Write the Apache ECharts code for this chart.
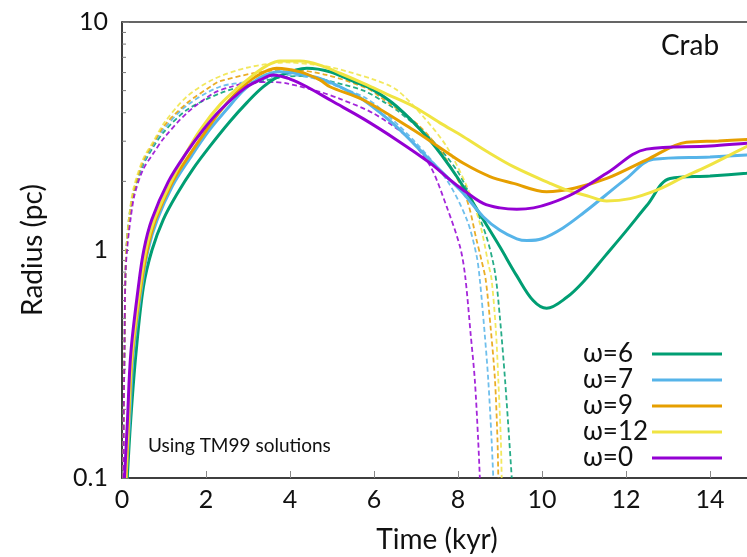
<!DOCTYPE html>
<html><head><meta charset="utf-8">
<script src="https://cdn.jsdelivr.net/npm/echarts@6/dist/echarts.min.js"></script>
<style>html,body{margin:0;padding:0;background:#fff}#c{width:747px;height:557px}</style>
</head><body><div id="c"></div>
<script>
const FONT = 'Lato, "DejaVu Sans", sans-serif';

// ---- Solid curves (full model), time in kyr, radius in pc ----
const timeW6 = [0.126,0.207,0.333,0.51,0.714,0.983,1.31,1.70,2.10,2.57,2.98,3.36,3.76,4.40,4.95,5.55,5.9,6.54,7.33,7.97,8.6,9.0,9.4,9.79,10.11,10.59,11.0,11.5,12.0,12.5,13.05,14.0,14.87,15.0];
const radiusW6 = [0.1,0.179,0.353,0.69,1.0,1.36,1.76,2.28,2.86,3.66,4.44,5.19,5.80,6.27,6.05,5.45,5.14,4.26,3.03,2.10,1.36,1.03,0.77,0.60,0.555,0.62,0.731,0.94,1.21,1.57,2.06,2.11,2.17,2.18];

const timeW7 = [0.095,0.18,0.27,0.47,0.62,0.84,1.2,1.62,2.07,2.49,2.88,3.29,3.76,4.24,4.71,5.19,5.75,6.54,7.33,7.81,8.13,8.6,9.0,9.4,9.64,10.0,10.5,11.0,11.5,12.0,12.65,14.0,14.87,15.0];
const radiusW7 = [0.1,0.179,0.353,0.69,1.0,1.36,1.91,2.53,3.34,4.13,4.98,5.71,6.05,5.92,5.66,5.2,4.55,3.47,2.48,2.03,1.77,1.40,1.22,1.12,1.10,1.12,1.25,1.46,1.73,2.05,2.50,2.56,2.61,2.62];

const timeW9 = [0.10,0.16,0.25,0.45,0.60,0.80,1.19,1.6,2.0,2.38,2.81,3.19,3.68,4.24,4.71,4.95,5.75,6.94,7.57,8.13,8.76,9.32,10.11,10.79,11.54,12.48,13.44,14.2,15.0];
const radiusW9 = [0.1,0.179,0.353,0.69,1.0,1.36,1.97,2.60,3.33,4.15,5.08,5.77,6.27,6.04,5.57,5.2,4.55,3.36,2.81,2.40,2.1,1.96,1.80,1.87,2.06,2.48,2.97,3.01,3.06];

const timeW12 = [0.09,0.15,0.24,0.43,0.57,0.77,1.19,1.50,1.86,2.33,2.81,3.17,3.45,3.76,4.24,4.71,5.19,5.75,6.3,6.94,7.57,8.13,8.71,9.32,10.19,10.59,11.07,11.54,12.1,12.73,13.33,13.92,14.87,15.0];
const radiusW12 = [0.1,0.179,0.353,0.69,1.0,1.36,2.03,2.61,3.36,4.33,5.24,5.94,6.44,6.75,6.74,6.47,5.96,5.38,4.83,4.26,3.61,3.14,2.69,2.32,1.96,1.83,1.73,1.64,1.68,1.83,2.07,2.32,2.84,2.91];

const timeW0 = [0.06,0.13,0.21,0.39,0.52,0.71,1.10,1.54,1.93,2.33,2.93,3.29,3.6,4.0,4.4,5.0,5.75,6.54,7.33,7.81,8.13,8.6,9.0,9.4,9.8,10.19,10.75,11.54,12.49,14.0,14.87,15.0];
const radiusW0 = [0.1,0.179,0.353,0.69,1.0,1.36,1.99,2.68,3.36,4.09,5.14,5.57,5.86,5.62,5.2,4.5,3.76,3.04,2.41,2.03,1.83,1.60,1.53,1.51,1.53,1.60,1.77,2.17,2.77,2.86,2.94,2.95];

// ---- Dashed curves (TM99 solutions) ----
const timeTmW6 = [0.03,0.04,0.06,0.08,0.11,0.17,0.27,0.5,0.75,1.0,1.54,2.33,3.13,3.92,4.4,4.95,5.75,6.30,6.54,7.33,7.97,8.37,8.68,8.88,9.0,9.12,9.22,9.28];
const radiusTmW6 = [0.1,0.18,0.38,0.76,1.05,1.4,1.77,2.35,2.84,3.3,4.11,4.86,5.38,5.76,5.8,5.5,5.0,4.39,4.11,3.1,2.24,1.60,1.14,0.80,0.5,0.27,0.147,0.1];

const timeTmW7 = [0.03,0.04,0.06,0.08,0.11,0.18,0.28,0.5,0.75,1.0,1.54,2.33,3.13,3.92,4.5,5.03,5.75,6.14,6.94,7.73,8.21,8.44,8.52,8.64,8.72,8.80,8.84];
const radiusTmW7 = [0.1,0.18,0.38,0.76,1.05,1.4,1.8,2.4,2.9,3.4,4.3,5.2,5.5,5.86,5.7,5.3,4.7,4.18,3.03,2.03,1.36,0.95,0.74,0.42,0.27,0.147,0.1];

const timeTmW9 = [0.03,0.04,0.06,0.08,0.11,0.18,0.28,0.5,0.75,1.0,1.54,2.17,2.33,3.13,3.92,4.87,5.83,6.14,7.10,7.73,8.21,8.44,8.56,8.66,8.78,8.88,8.94,8.96];
const radiusTmW9 = [0.1,0.18,0.38,0.76,1.05,1.4,1.8,2.45,2.95,3.5,4.4,5.3,5.5,5.96,6.19,5.86,5.12,4.7,3.47,2.48,1.66,1.11,0.9,0.74,0.45,0.27,0.147,0.1];

const timeTmW12 = [0.03,0.04,0.06,0.08,0.11,0.17,0.27,0.5,0.75,1.0,1.54,2.17,2.97,3.92,4.56,5.03,5.98,6.54,7.17,7.73,8.21,8.52,8.72,8.80,8.90,8.96,9.02,9.04];
const radiusTmW12 = [0.1,0.18,0.38,0.76,1.05,1.4,1.85,2.5,3.0,3.6,4.7,5.6,6.3,6.65,6.5,6.3,5.6,5.04,3.85,2.84,1.90,1.31,0.875,0.74,0.45,0.27,0.147,0.1];

const timeTmW0 = [0.03,0.04,0.06,0.08,0.12,0.2,0.3,0.5,0.75,1.0,1.54,2.17,2.6,3.13,3.6,3.92,4.71,5.19,5.98,6.78,7.33,7.73,8.05,8.17,8.30,8.40,8.48,8.52];
const radiusTmW0 = [0.1,0.18,0.38,0.76,1.0,1.35,1.75,2.25,2.66,3.1,3.98,4.86,5.2,5.45,5.45,5.38,4.94,4.6,3.98,3.14,2.35,1.55,1.03,0.77,0.43,0.27,0.147,0.1];

const legendNames = ['ω=6','ω=7','ω=9','ω=12','ω=0'];
const seriesColors = ['#009e73','#56b4e9','#e69f00','#f0e442','#9400d3'];
const xTickLabels = [0,2,4,6,8,10,12,14];
const minorTickValues = [0.2,0.3,0.4,0.5,0.6,0.7,0.8,0.9,2,3,4,5,6,7,8,9];

const solid = [[timeW6,radiusW6],[timeW7,radiusW7],[timeW9,radiusW9],[timeW12,radiusW12],[timeW0,radiusW0]];
const dashed = [[timeTmW6,radiusTmW6],[timeTmW7,radiusTmW7],[timeTmW9,radiusTmW9],[timeTmW12,radiusTmW12],[timeTmW0,radiusTmW0]];
const zip = (t, r) => t.map((v, i) => [v, r[i]]);

const series = [];
dashed.forEach((d, i) => {
  series.push({
    name: 'TM99 ' + legendNames[i], type: 'line', data: zip(d[0], d[1]),
    showSymbol: false, symbol: 'none', smooth: 0.3, color: seriesColors[i],
    lineStyle: {color: seriesColors[i], width: 1.8, type: [5, 3], opacity: 0.85},
    z: 2
  });
});
solid.forEach((d, i) => {
  series.push({
    name: legendNames[i], type: 'line', data: zip(d[0], d[1]),
    showSymbol: false, symbol: 'none', smooth: 0.35, color: seriesColors[i],
    lineStyle: {color: seriesColors[i], width: 3},
    z: 3
  });
});
series.push({
  type: 'custom', name: 'minorTicks',
  data: minorTickValues.map(v => [0, v]),
  renderItem: function (params, api) {
    const p = api.coord([api.value(0), api.value(1)]);
    return {type: 'line', shape: {x1: p[0], y1: p[1], x2: p[0] + 4, y2: p[1]},
            style: {stroke: '#777', lineWidth: 1}};
  },
  silent: true, z: 1
});

const chart = echarts.init(document.getElementById('c'), null, {renderer: 'canvas'});
chart.setOption({
  animation: false,
  backgroundColor: '#fff',
  grid: {left: 122, right: -5, top: 22, bottom: 79, show: true, borderColor: '#333', borderWidth: 1.5,
         containLabel: false, outerBoundsMode: 'none'},
  xAxis: {
    type: 'value', min: 0, max: 15, interval: 2,
    name: 'Time (kyr)', nameLocation: 'middle', nameGap: 48,
    nameTextStyle: {fontFamily: FONT, fontSize: 28, color: '#111'},
    axisLine: {show: true, lineStyle: {color: '#333', width: 1.5}},
    axisTick: {show: true, inside: true, length: 7, lineStyle: {color: '#888'}},
    axisLabel: {fontFamily: FONT, fontSize: 25, color: '#111', margin: 9, showMaxLabel: false,
      formatter: v => (xTickLabels.indexOf(v) >= 0 ? String(v) : '')},
    splitLine: {show: false}
  },
  yAxis: {
    type: 'log', logBase: 10, min: 0.1, max: 10,
    name: 'Radius (pc)', nameLocation: 'middle', nameGap: 75, nameRotate: 90,
    nameTextStyle: {fontFamily: FONT, fontSize: 28, color: '#111'},
    axisLine: {show: true, lineStyle: {color: '#333', width: 1.5}},
    axisTick: {show: true, inside: true, length: 7, lineStyle: {color: '#777'}},
    axisLabel: {fontFamily: FONT, fontSize: 25, color: '#111', margin: 14,
      formatter: v => (v < 1 ? v.toFixed(1) : String(Math.round(v)))},
    splitLine: {show: false}
  },
  legend: {
    data: legendNames, orient: 'vertical', left: 578, top: 336, align: 'right',
    itemWidth: 70, itemHeight: 3, itemGap: 0, icon: 'rect', selectedMode: false,
    formatter: '{a|{name}}',
    textStyle: {rich: {a: {width: 64, align: 'left', fontSize: 26, lineHeight: 26, fontFamily: FONT, color: '#111'}}}
  },
  graphic: [
    {type: 'text', left: 661, top: 32, style: {text: 'Crab', fontFamily: FONT, fontSize: 28, fill: '#111'}},
    {type: 'text', left: 148, top: 436, style: {text: 'Using TM99 solutions', fontFamily: FONT, fontSize: 19, fill: '#111'}}
  ],
  series: series
});
</script></body></html>
